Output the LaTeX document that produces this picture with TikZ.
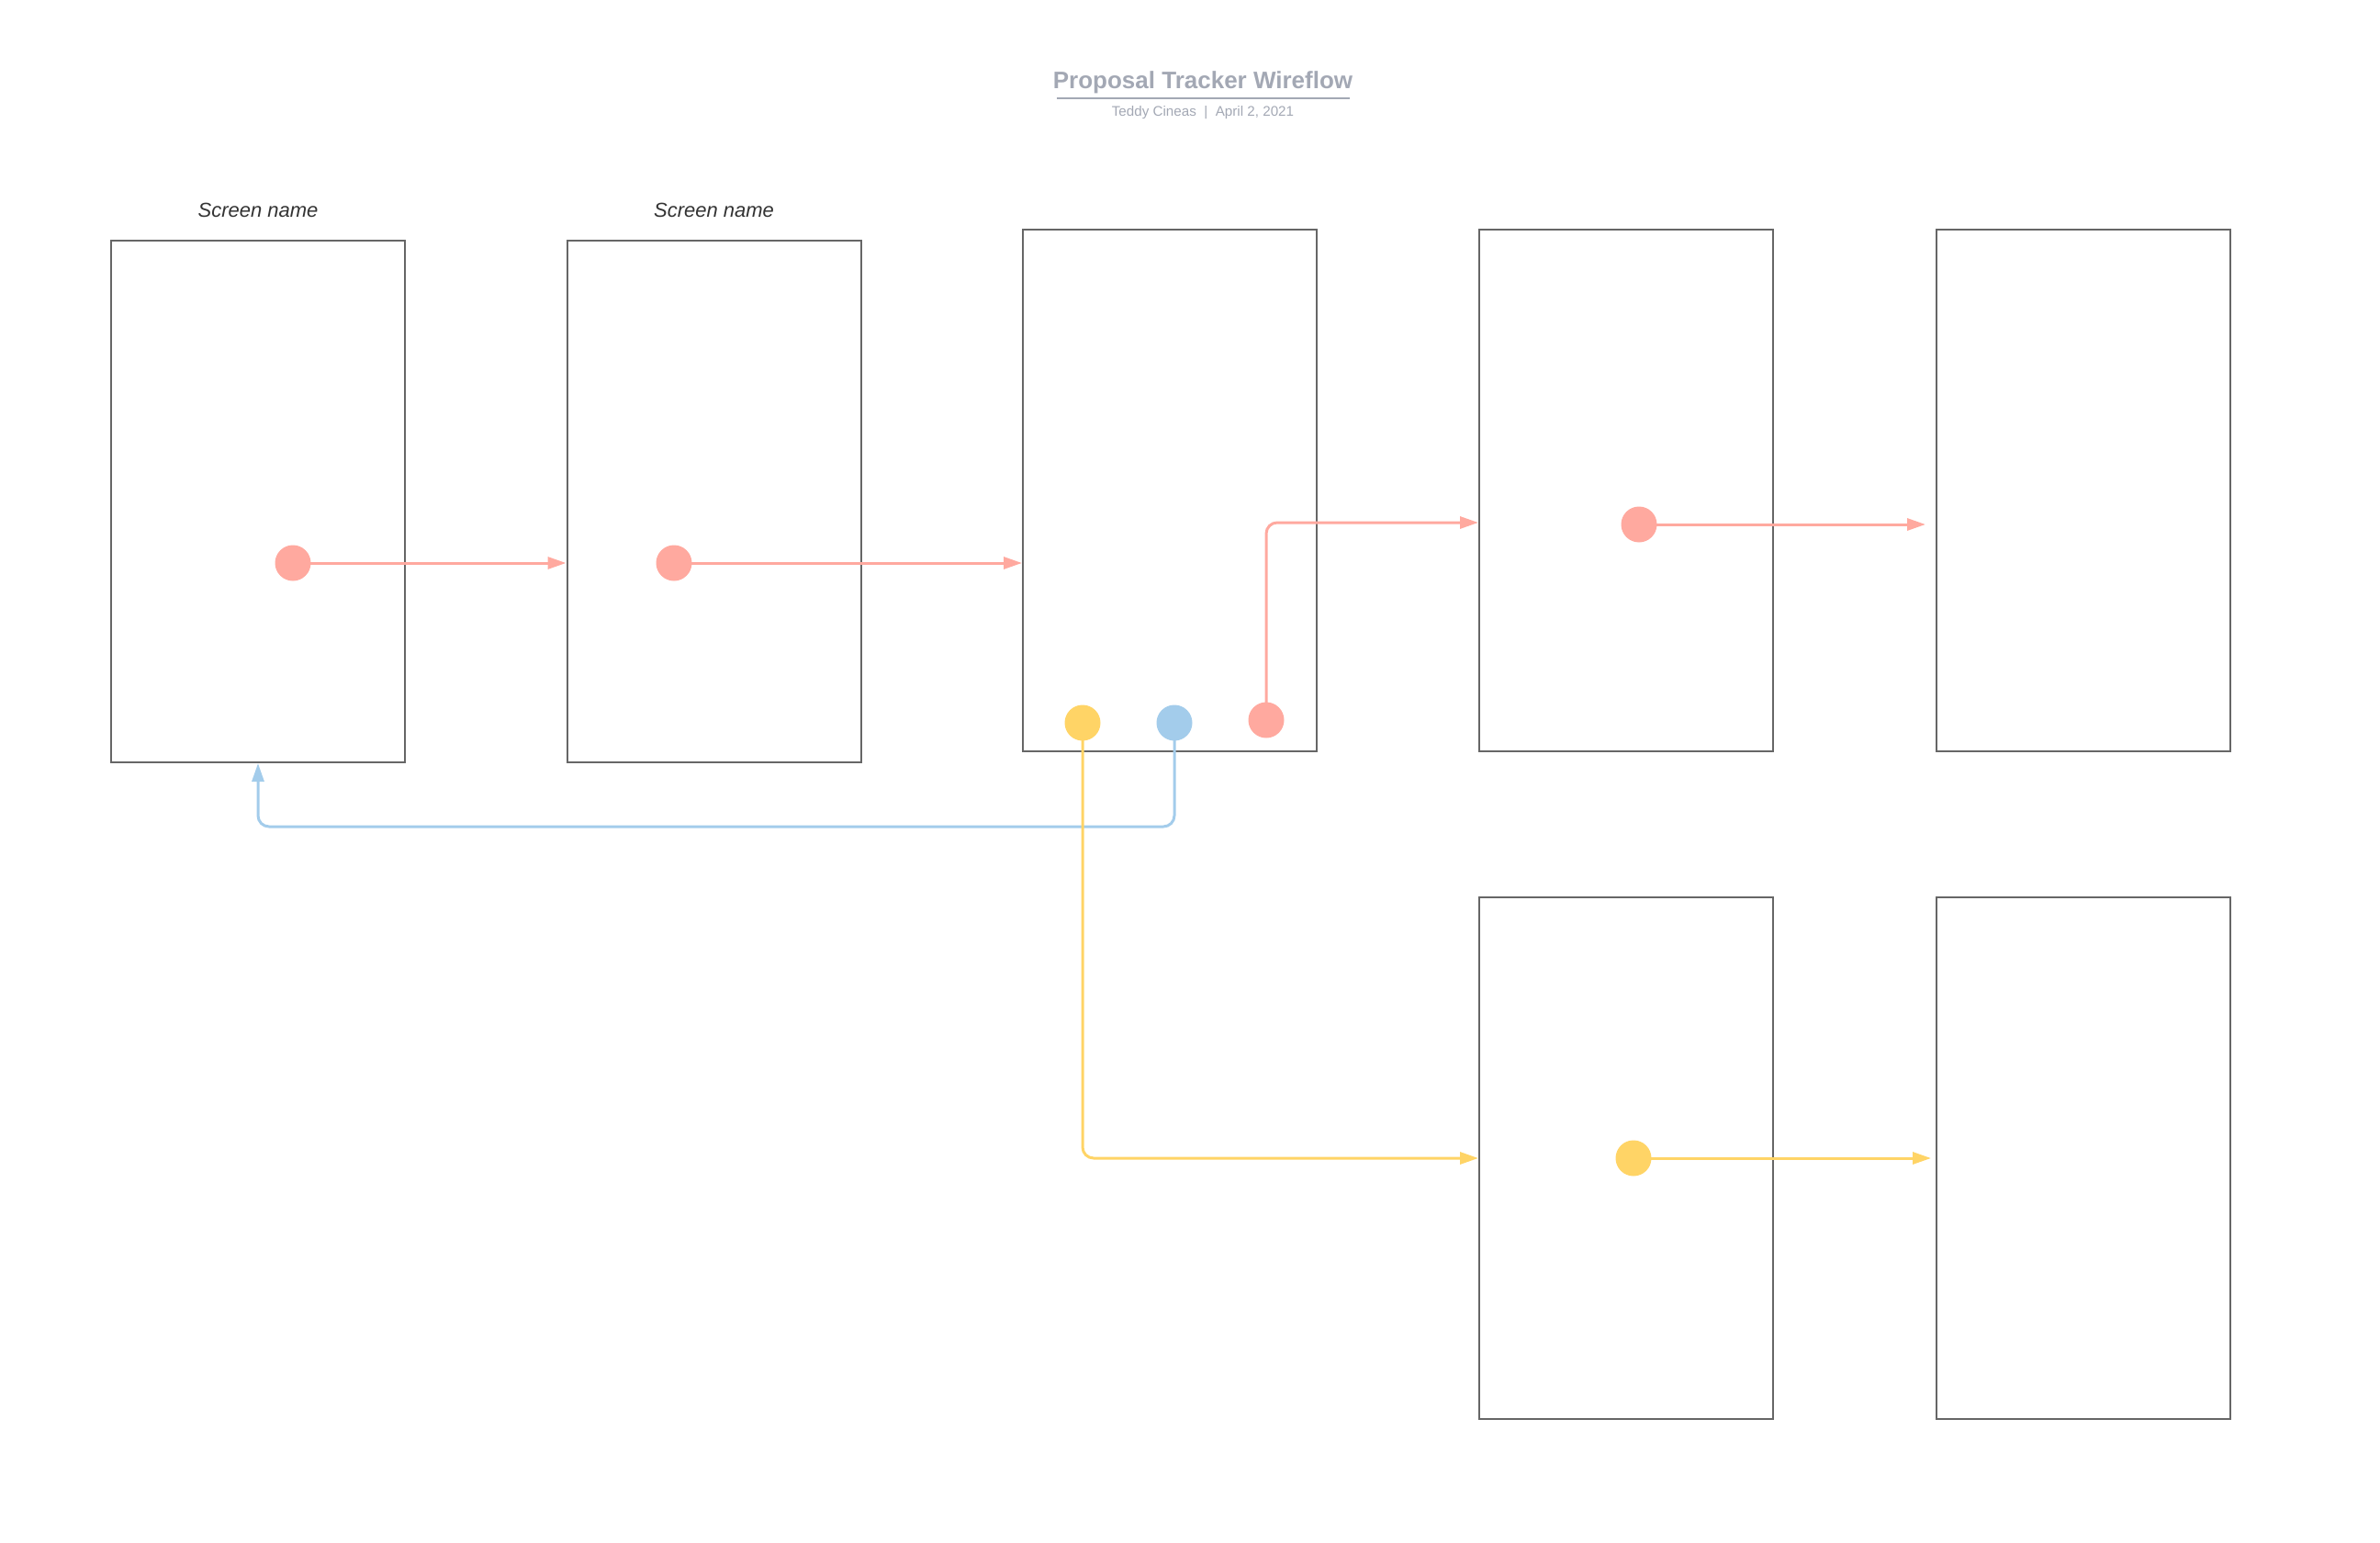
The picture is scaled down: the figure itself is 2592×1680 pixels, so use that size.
\documentclass[tikz,border=0pt]{standalone}
\usepackage{fontspec}
\setmainfont{Liberation Sans}
\usetikzlibrary{arrows.meta}
\definecolor{boxgray}{HTML}{666666}
\definecolor{cred}{HTML}{FFA99F}
\definecolor{cyel}{HTML}{FFD466}
\definecolor{cblue}{HTML}{A3CCEB}
\definecolor{ttl}{HTML}{A3A8B4}
\definecolor{lbl}{HTML}{333333}
\begin{document}
\begin{tikzpicture}[x=0.5pt,y=-0.5pt,
  screen/.style={draw=boxgray,line width=1pt,rectangle,inner sep=0pt,minimum width=160pt,minimum height=284pt},
  dot/.style={circle,inner sep=0pt,minimum size=19.5pt},
  link/.style={line width=1.5pt,rounded corners=6pt,-{Triangle[length=10pt,width=6.5pt]}},
  scrlabel/.style={font=\fontsize{11pt}{13pt}\selectfont\itshape,text=lbl,anchor=base}
]
\useasboundingbox (0,0) rectangle (2592,1680);
% title
\node[font=\fontsize{13pt}{15pt}\selectfont\bfseries,text=ttl,anchor=base] (title) at (1310,97) {Proposal Tracker Wireflow};
\draw[ttl,line width=1pt] (1151,107) coordinate (ul1) -- (1470,107) coordinate (ul2);
\node[font=\fontsize{7.6pt}{9pt}\selectfont,text=ttl,anchor=base] (sub) at (1310,127) {Teddy Cineas\ \ |\ \ April 2, 2021};
% screens
\node[screen] (b1) at (281,546) {};
\node[screen] (b2) at (777.5,546) {};
\node[screen] (b3) at (1274,534) {};
\node[screen] (b4) at (1771,534) {};
\node[screen] (b5) at (2269,534) {};
\node[screen] (b6) at (1771,1261) {};
\node[screen] (b7) at (2269,1261) {};
\node[scrlabel] (l1) at (281,237) {Screen name};
\node[scrlabel] (l2) at (777.5,237) {Screen name};
% hotspot coordinates
\coordinate (r1) at (319,613);
\coordinate (r2) at (734,613);
\coordinate (y3) at (1179,787);
\coordinate (u3) at (1279,787);
\coordinate (r3) at (1379,784);
\coordinate (r4) at (1785,571);
\coordinate (y6) at (1779,1261);
% connectors
\draw[link,cred] (r1) -- (b2.west |- r1);
\draw[link,cred] (r2) -- (b3.west |- r2);
\draw[link,cred] (r3) |- (b4.west |- 0,569);
\draw[link,cred,shorten >=5.5pt] (r4) -- (b5.west |- r4);
\draw[link,cblue] (u3) |- (281,900) -- (b1.south);
\draw[link,cyel] (y3) |- (b6.west);
\draw[link,cyel,shorten >=2.5pt] (y6) -- (b7.west |- y6);
% dots
\node[dot,fill=cred] (d1) at (r1) {};
\node[dot,fill=cred] (d2) at (r2) {};
\node[dot,fill=cyel] (d3) at (y3) {};
\node[dot,fill=cblue] (d4) at (u3) {};
\node[dot,fill=cred] (d5) at (r3) {};
\node[dot,fill=cred] (d6) at (r4) {};
\node[dot,fill=cyel] (d7) at (y6) {};
\end{tikzpicture}
\end{document}
